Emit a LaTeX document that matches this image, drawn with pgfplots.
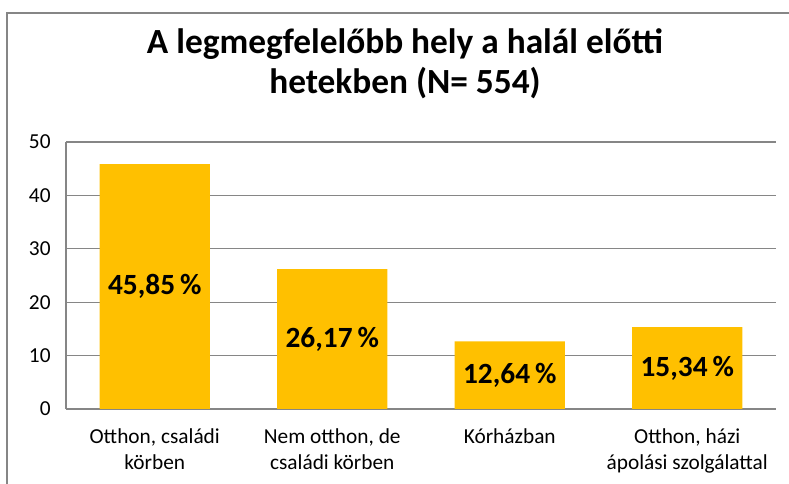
\documentclass[border=0pt]{standalone}
\usepackage{fontspec}
\setmainfont{Carlito}
\usepackage{pgfplots}
\pgfplotsset{compat=1.18}
\definecolor{barfill}{HTML}{FFC000}
\definecolor{gridgray}{HTML}{868686}
\begin{document}
\begin{tikzpicture}
\useasboundingbox (0,0) rectangle (591.75pt,363pt);
% outer chart frame (only left and top edges are inside the crop)
\draw[gridgray, line width=2pt] (5.25pt,0) -- (5.25pt,353.25pt) -- (591.75pt,353.25pt);
\node[font=\bfseries\fontsize{26.5}{30}\selectfont, anchor=base, inner sep=0]
  at (303.75pt,322.5pt) {A legmegfelelőbb hely a halál előtti};
\node[font=\bfseries\fontsize{26.5}{30}\selectfont, anchor=base, inner sep=0]
  at (303.75pt,292.5pt) {hetekben (N= 554)};
\begin{axis}[
  at={(49.5pt,56.25pt)}, anchor=south west,
  width=532.5pt, height=200.25pt, scale only axis,
  ybar, bar width=0.62,
  xmin=-0.5, xmax=3.5,
  ymin=0, ymax=50, ytick={0,10,...,50},
  xtick=data,
  xticklabels={{Otthon, családi\\körben},{Nem otthon, de\\családi körben},{Kórházban},{Otthon, házi\\ápolási szolgálattal}},
  axis x line*=bottom, axis y line*=left,
  axis line style={gridgray, line width=0.9pt},
  ymajorgrids, grid style={gridgray, line width=0.9pt},
  major tick length=0,
  /pgf/number format/assume math mode=true,
  tick label style={font=\fontsize{16}{19.5}\selectfont, black},
  yticklabel style={xshift=-8pt},
  xticklabel style={align=center, yshift=-11pt},
  visualization depends on={y \as \rawy},
  nodes near coords={\pgfmathprintnumber[fixed,fixed zerofill,precision=2,use comma]{\pgfplotspointmeta}\,\%},
  every node near coord/.append style={anchor=center,
    font=\bfseries\fontsize{22}{26}\selectfont,
    shift={(axis direction cs:0,-\rawy/2)}},
]
\addplot[fill=barfill, draw=none] coordinates {(0,45.85) (1,26.17) (2,12.64) (3,15.34)};
\end{axis}
\end{tikzpicture}
\end{document}
